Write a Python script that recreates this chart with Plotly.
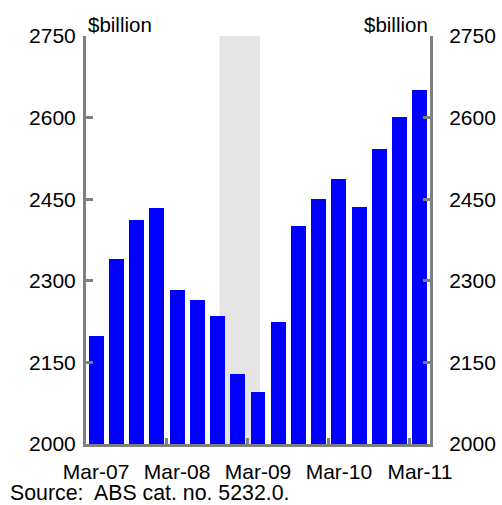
import plotly.graph_objects as go

quarters = ["Mar-07", "Jun-07", "Sep-07", "Dec-07", "Mar-08", "Jun-08", "Sep-08", "Dec-08",
            "Mar-09", "Jun-09", "Sep-09", "Dec-09", "Mar-10", "Jun-10", "Sep-10", "Dec-10", "Mar-11"]
values = [2198, 2341, 2411, 2434, 2283, 2264, 2235, 2128, 2095, 2224,
          2400, 2450, 2487, 2435, 2542, 2602, 2650]
x_tick_labels = ["Mar-07", "Mar-08", "Mar-09", "Mar-10", "Mar-11"]
y_ticks = [2000, 2150, 2300, 2450, 2600, 2750]
shaded_period = [6.1, 8.1]  # in quarter-index units
source_text = "Source:  ABS cat. no. 5232.0."
unit_label = "$billion"

FONT = "Liberation Sans, Arial, sans-serif"
GRAY = "#808080"
FS = 21

xs = list(range(len(quarters)))
tickvals = [xs[quarters.index(q)] for q in x_tick_labels]
year_bounds = [v - 0.5 for v in tickvals[1:]]

fig = go.Figure()
fig.add_trace(go.Bar(x=xs, y=values, width=0.74, marker=dict(color="#0000ff", line=dict(width=0)),
                     hoverinfo="skip", showlegend=False))
fig.add_trace(go.Scatter(x=[xs[0]], y=[y_ticks[0]], yaxis="y2", mode="markers",
                         marker=dict(opacity=0), showlegend=False, hoverinfo="skip"))

fig.add_shape(type="rect", xref="x", yref="paper", x0=shaded_period[0], x1=shaded_period[1],
              y0=0, y1=1, fillcolor="#e5e5e5", line=dict(width=0), layer="below")

yax = dict(range=[y_ticks[0], y_ticks[-1]], tickvals=y_ticks, showgrid=False, zeroline=False,
           showline=True, linecolor=GRAY, linewidth=3, ticks="inside", ticklen=7, tickwidth=3,
           tickcolor=GRAY, automargin=False, tickfont=dict(family=FONT, size=FS, color="black"))

fig.update_layout(
    width=502, height=505,
    margin=dict(l=86, r=72, t=36, b=61, pad=0),
    paper_bgcolor="white", plot_bgcolor="white",
    bargap=0,
    xaxis=dict(range=[-0.5, len(quarters) - 0.5], tickvals=tickvals, ticktext=x_tick_labels,
               showgrid=False, zeroline=False, showline=True, linecolor=GRAY, linewidth=3,
               ticks="", ticklabelstandoff=7, automargin=False,
               minor=dict(tickvals=year_bounds, ticks="inside", ticklen=6, tickwidth=3, tickcolor=GRAY),
               tickfont=dict(family=FONT, size=FS, color="black")),
    yaxis=dict(**yax, side="left", ticklabelstandoff=3),
    yaxis2=dict(**yax, side="right", overlaying="y", ticklabelstandoff=12),
    annotations=[
        dict(text=unit_label, xref="paper", yref="paper", x=0, y=1, xanchor="left", yanchor="bottom",
             yshift=-2, showarrow=False, font=dict(family=FONT, size=20.5, color="black")),
        dict(text=unit_label, xref="paper", yref="paper", x=1, y=1, xanchor="right", yanchor="bottom",
             yshift=-2, showarrow=False, font=dict(family=FONT, size=20.5, color="black")),
        dict(text=source_text, xref="paper", yref="paper", x=-78 / 344, y=-0.1207, xanchor="left",
             yanchor="middle", showarrow=False, font=dict(family=FONT, size=21.3, color="black")),
    ],
)

fig.write_html("out.html", config={"displayModeBar": False},
               post_script="document.body.style.margin='0';document.body.style.overflow='hidden';")
